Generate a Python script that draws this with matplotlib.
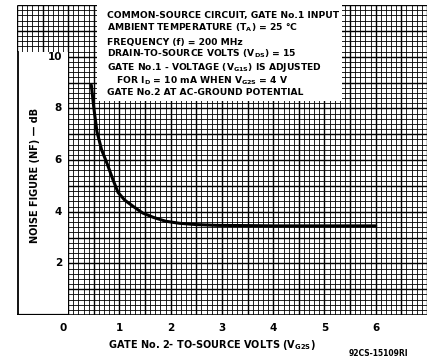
import matplotlib
matplotlib.use("Agg")
import matplotlib.pyplot as plt
import numpy as np
from matplotlib.patches import Rectangle

plt.rcParams['font.family'] = ['DejaVu Sans']
plt.rcParams['font.weight'] = 'bold'
plt.rcParams['mathtext.fontset'] = 'custom'
plt.rcParams['mathtext.rm'] = 'DejaVu Sans:bold'
plt.rcParams['mathtext.it'] = 'DejaVu Sans:bold'
plt.rcParams['mathtext.bf'] = 'DejaVu Sans:bold'
plt.rcParams['mathtext.default'] = 'rm'

# data
vg2s = [0.45, 0.50, 0.56, 0.65, 0.76, 0.87, 0.97, 1.10, 1.27, 1.45, 1.66, 1.90,
        2.17, 2.50, 2.90, 3.50, 4.00, 5.00, 6.00]
nf_db = [8.9, 8.0, 7.1, 6.4, 5.85, 5.25, 4.75, 4.45, 4.2, 3.95, 3.78, 3.63,
         3.55, 3.5, 3.47, 3.46, 3.45, 3.45, 3.45]
x_ticks = [0, 1, 2, 3, 4, 5, 6]
y_ticks = [2, 4, 6, 8, 10]
notes = [
    "COMMON-SOURCE CIRCUIT, GATE No.1 INPUT",
    "AMBIENT TEMPERATURE (T$_A$) = 25 °C",
    "FREQUENCY (f) = 200 MHz",
    "DRAIN-TO-SOURCE VOLTS (V$_{DS}$) = 15",
    "GATE No.1 - VOLTAGE (V$_{G1S}$) IS ADJUSTED",
    "   FOR I$_D$ = 10 mA WHEN V$_{G2S}$ = 4 V",
    "GATE No.2 AT AC-GROUND POTENTIAL",
]

W, H = 434, 360
fig = plt.figure(figsize=(W / 100, H / 100), dpi=100)
x0, x1 = -1.0, 7.0
y0, y1 = 0.0, 12.0
px_l, px_r, px_t, px_b = 17, 427, 5, 315
ax = fig.add_axes([px_l / W, 1 - px_b / H, (px_r - px_l) / W, (px_b - px_t) / H])
ax.set_xlim(x0, x1)
ax.set_ylim(y0, y1)
ax.axis('off')

# grid
for i, xv in enumerate(np.arange(x0, x1 + 1e-9, 0.1)):
    major = (i % 5 == 0)
    ax.plot([xv, xv], [y0, y1], color='black', lw=1.0 if major else 0.6, zorder=1,
            solid_capstyle='butt')
for j, yv in enumerate(np.arange(y0, y1 + 1e-9, 0.2)):
    major = (j % 5 == 0)
    ax.plot([x0, x1], [yv, yv], color='black', lw=1.0 if major else 0.6, zorder=1,
            solid_capstyle='butt')

# white left panel
ax.add_patch(Rectangle((x0, y0), 1.0, 10.2, facecolor='white', edgecolor='none', zorder=2))
ax.plot([x0 + 0.01, x0 + 0.01], [y0, 10.2], color='black', lw=1.3, zorder=3)
ax.plot([x0, 0.0], [y0, y0], color='black', lw=1.6, zorder=3)
ax.plot([0.0, x1], [y0, y0], color='black', lw=1.1, zorder=3)

# white text box
ax.add_patch(Rectangle((0.56, 8.3), 4.78, 3.75, facecolor='white', edgecolor='none', zorder=2))
ty = [11.6, 11.1, 10.55, 10.1, 9.6, 9.05, 8.6]
for t, yy in zip(notes, ty):
    ax.text(0.75, yy, t, fontsize=6.6, fontweight='bold', ha='left', va='center', zorder=4)

# curve
ax.plot(vg2s, nf_db, color='black', lw=2.2, zorder=5, solid_capstyle='round')

# tick labels
for xv in x_ticks:
    ax.text(xv - (0.1 if xv == 0 else 0), -0.3, str(xv), fontsize=7.5, fontweight='bold',
            ha='center', va='top', clip_on=False)
for yv in y_ticks:
    ax.text(-0.12, yv, str(yv), fontsize=7.5, fontweight='bold',
            ha='right', va='center', clip_on=False)

ax.text(-0.64, 5.4, "NOISE FIGURE (NF) — dB", rotation=90, fontsize=7, fontweight='bold',
        ha='center', va='center')
ax.text(2.8, -0.9, "GATE No. 2- TO-SOURCE VOLTS (V$_{G2S}$)", fontsize=7, fontweight='bold',
        ha='center', va='top', clip_on=False)
fig.text(378 / W, 1 - 354 / H, "92CS-15109RI", fontsize=5.5, ha='center', va='center')

fig.savefig("out.png", dpi=100)
